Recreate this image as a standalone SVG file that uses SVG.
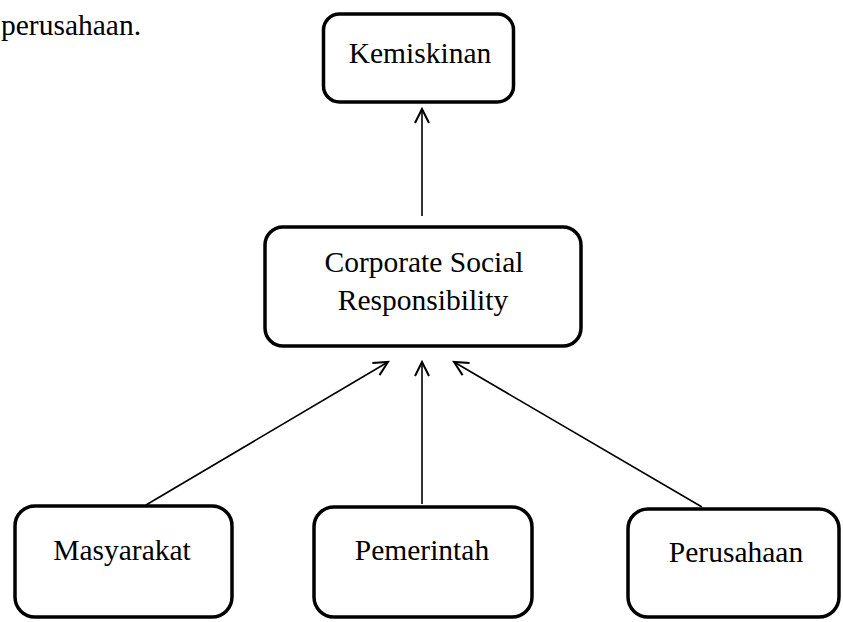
<svg xmlns="http://www.w3.org/2000/svg" width="843" height="622" viewBox="0 0 843 622">
<style>
.box{fill:#fff;stroke:#000;stroke-width:3.5}
.t{font-family:"Liberation Serif","Times New Roman",serif;font-size:29.5px;fill:#000;text-anchor:middle}
.c{stroke:#000;stroke-width:1.6;fill:none}
</style>
<defs>
<marker id="ah" markerUnits="userSpaceOnUse" markerWidth="20" markerHeight="20" viewBox="-16 -10 20 20" refX="0" refY="0" orient="auto">
<path d="M -14 -7 L 0 0 L -14 7" fill="none" stroke="#000" stroke-width="2"/>
</marker>
</defs>
<rect width="843" height="622" fill="#fff"/>
<text class="t" x="1" y="35" style="text-anchor:start">perusahaan.</text>
<g id="connectors">
<line class="c" x1="422" y1="216" x2="422" y2="109" marker-end="url(#ah)"/>
<line class="c" x1="146" y1="505" x2="388" y2="362" marker-end="url(#ah)"/>
<line class="c" x1="422" y1="504" x2="422" y2="362" marker-end="url(#ah)"/>
<line class="c" x1="702" y1="507" x2="454" y2="362" marker-end="url(#ah)"/>
</g>
<g id="kemiskinan">
<rect class="box" x="323.5" y="14" width="190" height="88" rx="16"/>
<text class="t" x="420" y="63">Kemiskinan</text>
</g>
<g id="csr">
<rect class="box" x="265" y="227" width="316" height="119" rx="18"/>
<text class="t" x="424" y="272">Corporate Social</text>
<text class="t" x="423" y="310">Responsibility</text>
</g>
<g id="masyarakat">
<rect class="box" x="15" y="506" width="217" height="111" rx="20"/>
<text class="t" x="122" y="560">Masyarakat</text>
</g>
<g id="pemerintah">
<rect class="box" x="314" y="507" width="218" height="110" rx="20"/>
<text class="t" x="422" y="560">Pemerintah</text>
</g>
<g id="perusahaan">
<rect class="box" x="628" y="509" width="211" height="108" rx="20"/>
<text class="t" x="736" y="562">Perusahaan</text>
</g>
</svg>
